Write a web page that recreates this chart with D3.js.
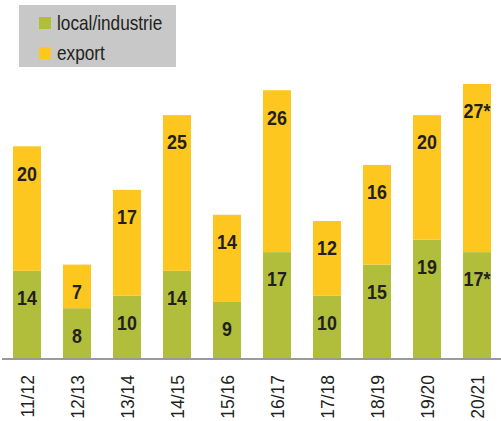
<!DOCTYPE html>
<html>
<head>
<meta charset="utf-8">
<script src="https://cdn.jsdelivr.net/npm/d3@7"></script>
<style>
  body { margin: 0; background: #fff; }
  text { font-family: "Liberation Sans", Arial, sans-serif; }
</style>
</head>
<body>
<div id="chart"></div>
<script>
var seasons = ["11/12", "12/13", "13/14", "14/15", "15/16", "16/17", "17/18", "18/19", "19/20", "20/21"];
var local = [14, 8, 10, 14, 9, 17, 10, 15, 19, 17];
var exportVals = [20, 7, 17, 25, 14, 26, 12, 16, 20, 27];
var localLabels = ["14", "8", "10", "14", "9", "17", "10", "15", "19", "17*"];
var exportLabels = ["20", "7", "17", "25", "14", "26", "12", "16", "20", "27*"];
var seriesNames = ["local/industrie", "export"];

var colors = {local: "#b1be3b", exp: "#fdc71f"};

var width = 501, height = 421;
var baseline = 358;
var squeeze = 0.85; // no condensed font installed, so narrow the glyphs by hand

var svg = d3.select("#chart").append("svg")
    .attr("width", width)
    .attr("height", height);

var data = seasons.map(function(s, i) {
    return {season: s, local: local[i], exp: exportVals[i], ll: localLabels[i], el: exportLabels[i]};
});

var x = d3.scaleBand()
    .domain(seasons)
    .range([2, 502])
    .paddingInner(0.44)
    .paddingOuter(0.22);

var y = d3.scaleLinear()
    .domain([0, 44])
    .range([baseline, 84]);

var bars = svg.append("g")
    .selectAll("g")
    .data(data)
    .enter().append("g")
    .attr("transform", function(d) { return "translate(" + x(d.season) + ",0)"; });

bars.append("rect")
    .attr("width", x.bandwidth())
    .attr("y", function(d) { return y(d.local); })
    .attr("height", function(d) { return y(0) - y(d.local); })
    .attr("fill", colors.local);

bars.append("rect")
    .attr("width", x.bandwidth())
    .attr("y", function(d) { return y(d.local + d.exp); })
    .attr("height", function(d) { return y(d.local) - y(d.local + d.exp); })
    .attr("fill", colors.exp);

// value labels, near the top of each segment
function valueLabel(topOf, textOf) {
    bars.append("text")
        .attr("transform", function(d) {
            return "translate(" + (x.bandwidth() / 2) + "," + (topOf(d) + 27) + ")scale(" + squeeze + ",1)";
        })
        .attr("dy", "0.35em")
        .attr("text-anchor", "middle")
        .attr("font-weight", "bold")
        .attr("font-size", 21)
        .attr("fill", "#231f20")
        .text(textOf);
}
valueLabel(function(d) { return y(d.local); }, function(d) { return d.ll; });
valueLabel(function(d) { return y(d.local + d.exp); }, function(d) { return d.el; });

// baseline
svg.append("line")
    .attr("x1", 2)
    .attr("x2", width)
    .attr("y1", baseline + 1)
    .attr("y2", baseline + 1)
    .attr("stroke", "#9a9a9a")
    .attr("stroke-width", 2);

// rotated season labels
svg.append("g")
    .selectAll("text")
    .data(seasons)
    .enter().append("text")
    .attr("transform", function(d) {
        return "translate(" + (x(d) + x.bandwidth() / 2) + ",375)rotate(-90)scale(0.92,1)";
    })
    .attr("text-anchor", "end")
    .attr("dy", "0.35em")
    .attr("font-size", 19)
    .attr("fill", "#231f20")
    .text(function(d) { return d; });

// legend
var legend = svg.append("g");
legend.append("rect")
    .attr("x", 19)
    .attr("y", 5)
    .attr("width", 157)
    .attr("height", 62)
    .attr("fill", "#c8c8c8");

var items = legend.selectAll("g")
    .data(seriesNames)
    .enter().append("g")
    .attr("transform", function(d, i) { return "translate(39," + (17 + i * 30) + ")"; });

items.append("rect")
    .attr("width", 12)
    .attr("height", 12)
    .attr("fill", function(d, i) { return i === 0 ? colors.local : colors.exp; });

items.append("text")
    .attr("transform", "translate(18,6)scale(0.82,1)")
    .attr("dy", "0.35em")
    .attr("font-size", 21)
    .attr("fill", "#231f20")
    .text(function(d) { return d; });
</script>
</body>
</html>
